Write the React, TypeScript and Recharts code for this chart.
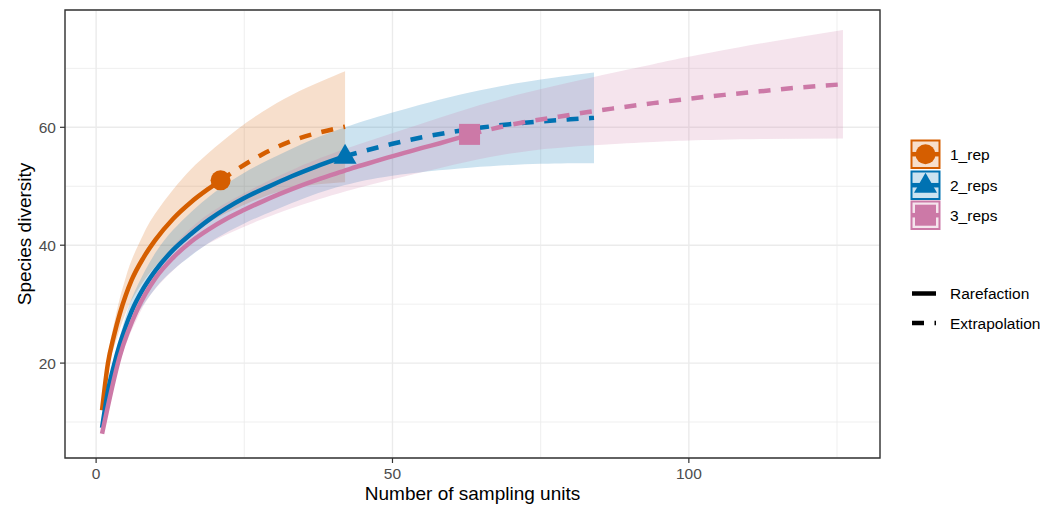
import React from "react";
import {
  ComposedChart,
  Area,
  Line,
  Scatter,
  XAxis,
  YAxis,
  CartesianGrid,
  ReferenceArea,
} from "recharts";

const FONT = '"Liberation Sans", Arial, Helvetica, sans-serif';

// axes
const X_DOMAIN: [number, number] = [-5.25, 132.25];
const Y_DOMAIN: [number, number] = [3.9, 79.9];
const X_TICKS = [0, 50, 100];
const Y_TICKS = [20, 40, 60];
const X_MINOR = [25, 75, 125];
const Y_MINOR = [10, 30, 50, 70];

// 1_rep
const rep1RareX = [1, 2, 3, 4, 5, 6, 8, 10, 13, 16, 19, 21];
const rep1RareY = [12, 20, 24.6, 28.4, 31.5, 34.1, 37.9, 40.9, 44.5, 47.3, 49.6, 51];
const rep1ExtraX = [21, 24, 28, 33, 38, 42];
const rep1ExtraY = [51, 53.0, 55.4, 57.7, 59.2, 60.1];
const rep1BandX = [1, 2, 3, 4, 5, 6, 8, 10, 13, 16, 19, 21, 24, 28, 33, 38, 42];
const rep1BandLo = [11.8, 18.8, 22.6, 25.8, 28.5, 30.7, 33.9, 36.4, 39.5, 41.9, 43.8, 45.0, 46.4, 48.1, 49.6, 50.4, 50.7];
const rep1BandHi = [12.2, 21.2, 26.6, 31.0, 34.5, 37.5, 41.9, 45.4, 49.45, 52.9, 55.7, 57.4, 59.8, 62.6, 65.5, 67.8, 69.5];

// 2_reps
const rep2RareX = [1, 2, 3, 4, 5, 6, 8, 10, 13, 16, 19, 22, 25, 29, 33, 37, 42];
const rep2RareY = [9, 15.3, 19.6, 23.2, 26.2, 28.8, 32.7, 35.7, 39.2, 41.9, 44.3, 46.3, 48.0, 49.9, 51.7, 53.3, 55.1];
const rep2ExtraX = [42, 46, 50, 55, 60, 65, 70, 75, 80, 84];
const rep2ExtraY = [55.1, 56.2, 57.2, 58.3, 59.2, 59.95, 60.55, 61.0, 61.35, 61.6];
const rep2BandX = [1, 2, 3, 5, 7, 10, 13, 16, 20, 25, 30, 36, 42, 50, 63, 75, 84];
const rep2BandLo = [8.8, 14.6, 18.5, 24.4, 28.4, 32.7, 35.8, 38.2, 41.0, 43.7, 45.9, 48.3, 50.2, 51.8, 53.15, 53.8, 53.9];
const rep2BandHi = [9.2, 16.0, 20.7, 28.0, 33.2, 38.7, 42.6, 45.6, 49.0, 52.3, 54.9, 57.7, 60.0, 62.5, 65.9, 68.1, 69.3];

// 3_reps
const rep3RareX = [1, 4, 7, 10, 13, 16, 19, 22, 25, 28, 31, 34, 37, 40, 43, 46, 49, 52, 55, 58, 61, 63];
const rep3RareY = [8, 21.2, 29.2, 34.4, 37.9, 40.6, 42.7, 44.5, 46.0, 47.4, 48.7, 49.9, 51.0, 52.0, 53.0, 53.9, 54.8, 55.65, 56.5, 57.3, 58.15, 58.75];
const rep3ExtraX = [63, 68, 73, 78, 83, 88, 94, 100, 106, 112, 118, 126];
const rep3ExtraY = [58.75, 60.0, 61.0, 61.8, 62.6, 63.3, 64.1, 64.85, 65.5, 66.1, 66.7, 67.3];
const rep3BandX = [1, 4, 7, 10, 16, 22, 28, 34, 42, 52, 63, 73, 84, 94, 100, 112, 126];
const rep3BandLo = [7.8, 20.2, 27.7, 32.6, 38.3, 41.8, 44.4, 46.6, 49.1, 51.65, 54.25, 56.0, 56.95, 57.5, 57.75, 58.0, 58.1];
const rep3BandHi = [8.2, 22.2, 30.7, 36.2, 42.9, 47.2, 50.4, 53.2, 56.3, 59.65, 63.25, 66.0, 68.55, 70.7, 71.95, 74.2, 76.5];

// observed (reference sample size) points
const refX = [21, 42, 63];
const refY = [51, 55.1, 58.8];

const names = ["1_rep", "2_reps", "3_reps"];
const colors = ["#D55E00", "#0072B2", "#CC79A7"];
const bandColors = ["#F7DFCC", "#CCE3F0", "#F5E4ED"];
const shapes = ["circle", "triangle", "square"];

const toPoints = (xs: number[], ys: number[]) => xs.map((x, i) => ({ x, y: ys[i] }));
const toBand = (xs: number[], lo: number[], hi: number[]) =>
  xs.map((x, i) => ({ x, lo: lo[i], hi: hi[i] }));

const series = [
  {
    rare: toPoints(rep1RareX, rep1RareY),
    extra: toPoints(rep1ExtraX, rep1ExtraY),
    band: toBand(rep1BandX, rep1BandLo, rep1BandHi),
  },
  {
    rare: toPoints(rep2RareX, rep2RareY),
    extra: toPoints(rep2ExtraX, rep2ExtraY),
    band: toBand(rep2BandX, rep2BandLo, rep2BandHi),
  },
  {
    rare: toPoints(rep3RareX, rep3RareY),
    extra: toPoints(rep3ExtraX, rep3ExtraY),
    band: toBand(rep3BandX, rep3BandLo, rep3BandHi),
  },
].map((s, i) => ({
  ...s,
  name: names[i],
  color: colors[i],
  shape: shapes[i],
  ref: [{ x: refX[i], y: refY[i] }],
}));

const LINE_W = 4.5;
const DASH = "12 10.5";

function Marker({ shape, cx, cy, color, s = 1 }: any) {
  if (shape === "circle") return <circle cx={cx} cy={cy} r={10 * s} fill={color} />;
  if (shape === "triangle") {
    const w = 11.5 * s;
    return (
      <polygon
        points={`${cx},${cy - 12.5 * s} ${cx - w},${cy + 7.5 * s} ${cx + w},${cy + 7.5 * s}`}
        fill={color}
      />
    );
  }
  return <rect x={cx - 10.5 * s} y={cy - 10.5 * s} width={21 * s} height={21 * s} fill={color} />;
}

const YTitle = (props: any) => {
  const vb = props.viewBox || { x: 0, y: 10, height: 448 };
  const cx = vb.x + 31;
  const cy = vb.y + vb.height / 2;
  return (
    <text
      x={cx}
      y={cy}
      transform={`rotate(-90 ${cx} ${cy})`}
      textAnchor="middle"
      fontSize={19}
      fontFamily={FONT}
      fill="#000"
    >
      Species diversity
    </text>
  );
};

const XTitle = (props: any) => {
  const vb = props.viewBox || { x: 65, y: 458, width: 815, height: 48 };
  return (
    <text
      x={vb.x + vb.width / 2}
      y={vb.y + vb.height - 6}
      textAnchor="middle"
      fontSize={19}
      fontFamily={FONT}
      fill="#000"
    >
      Number of sampling units
    </text>
  );
};

function Legend() {
  return (
    <div style={{ position: "absolute", left: 910, top: 139, fontFamily: FONT, fontSize: 15.5, color: "#000" }}>
      {series.map((s, i) => (
        <div key={s.name} style={{ position: "absolute", left: 0, top: i * 30.5, height: 30, width: 140 }}>
          <svg width={31} height={31} style={{ position: "absolute", left: 0, top: 0 }}>
            <rect x={1.5} y={1.5} width={28} height={27.5} fill={bandColors[i]} stroke={s.color} strokeWidth={2} />
            <line x1={2} x2={29} y1={15.2} y2={15.2} stroke={s.color} strokeWidth={LINE_W} />
            <Marker shape={s.shape} cx={15.5} cy={15.2} color={s.color} s={1} />
          </svg>
          <span style={{ position: "absolute", left: 40, top: 7, whiteSpace: "nowrap" }}>{s.name}</span>
        </div>
      ))}
      <div style={{ position: "absolute", left: 0, top: 145, height: 20, width: 140 }}>
        <svg width={30} height={20} style={{ position: "absolute", left: 0, top: 0 }}>
          <line x1={2} x2={26} y1={9.5} y2={9.5} stroke="#000" strokeWidth={LINE_W} />
        </svg>
        <span style={{ position: "absolute", left: 40, top: 1, whiteSpace: "nowrap" }}>Rarefaction</span>
      </div>
      <div style={{ position: "absolute", left: 0, top: 174, height: 20, width: 140 }}>
        <svg width={30} height={20} style={{ position: "absolute", left: 0, top: 0 }}>
          <line x1={2} x2={26} y1={10} y2={10} stroke="#000" strokeWidth={LINE_W} strokeDasharray={DASH} />
        </svg>
        <span style={{ position: "absolute", left: 40, top: 2, whiteSpace: "nowrap" }}>Extrapolation</span>
      </div>
    </div>
  );
}

export default function App() {
  return (
    <div style={{ position: "absolute", left: 0, top: 0, width: 1058, height: 506, background: "#fff" }}>
      <ComposedChart width={1058} height={506} margin={{ top: 10, right: 178, bottom: 0, left: 0 }}>
        <CartesianGrid stroke="#EBEBEB" strokeWidth={0.8} verticalValues={X_MINOR} horizontalValues={Y_MINOR} />
        <CartesianGrid stroke="#EBEBEB" strokeWidth={1.4} />
        <XAxis
          type="number"
          dataKey="x"
          domain={X_DOMAIN}
          ticks={X_TICKS}
          allowDataOverflow
          axisLine={false}
          tickLine={{ stroke: "#333333", strokeWidth: 1.2 }}
          tickSize={5}
          tickMargin={5}
          height={48}
          tick={{ fill: "#4D4D4D", fontSize: 15.5, fontFamily: FONT }}
          label={XTitle}
        />
        <YAxis
          type="number"
          dataKey="y"
          domain={Y_DOMAIN}
          ticks={Y_TICKS}
          allowDataOverflow
          axisLine={false}
          tickLine={{ stroke: "#333333", strokeWidth: 1.2 }}
          tickSize={5}
          tickMargin={4}
          width={65}
          tick={{ fill: "#4D4D4D", fontSize: 15.5, fontFamily: FONT }}
          label={YTitle}
        />
        {series.map((s) => (
          <Area
            key={s.name + "-band"}
            data={s.band}
            dataKey={(d: any) => [d.lo, d.hi]}
            type="natural"
            stroke="none"
            fill={s.color}
            fillOpacity={0.2}
            dot={false}
            activeDot={false}
            isAnimationActive={false}
          />
        ))}
        {series.map((s) => (
          <Line
            key={s.name + "-rare"}
            data={s.rare}
            dataKey="y"
            type="monotone"
            stroke={s.color}
            strokeWidth={LINE_W}
            dot={false}
            activeDot={false}
            isAnimationActive={false}
          />
        ))}
        {series.map((s) => (
          <Line
            key={s.name + "-extra"}
            data={s.extra}
            dataKey="y"
            type="monotone"
            stroke={s.color}
            strokeWidth={LINE_W}
            strokeDasharray={DASH}
            dot={false}
            activeDot={false}
            isAnimationActive={false}
          />
        ))}
        {series.map((s) => (
          <Scatter
            key={s.name + "-ref"}
            data={s.ref}
            dataKey="y"
            isAnimationActive={false}
            shape={(p: any) => <Marker shape={s.shape} cx={p.cx} cy={p.cy} color={s.color} />}
          />
        ))}
        <ReferenceArea
          x1={X_DOMAIN[0]}
          x2={X_DOMAIN[1]}
          y1={Y_DOMAIN[0]}
          y2={Y_DOMAIN[1]}
          fill="none"
          stroke="#333333"
          strokeWidth={1.4}
        />
      </ComposedChart>
      <Legend />
    </div>
  );
}
